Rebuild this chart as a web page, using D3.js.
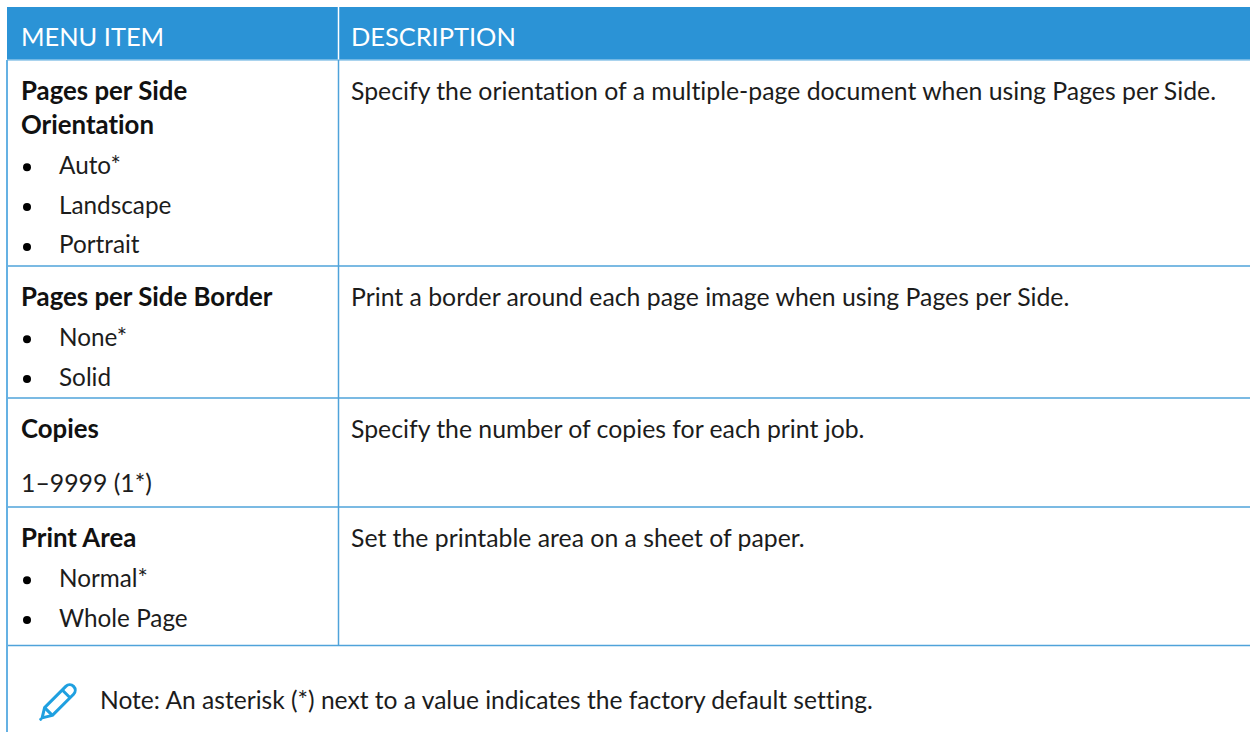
<!DOCTYPE html>
<html>
<head>
<meta charset="utf-8">
<script src="https://cdn.jsdelivr.net/npm/d3@7"></script>
<style>
  html, body { margin: 0; background: #fff; }
  svg { display: block; }
  text { font-family: Lato, sans-serif; font-size: 24.8px; fill: #1c1c1c; font-variant-ligatures: none; }
  .head { fill: #fff; font-size: 25.4px; }
  .title { font-weight: 700; fill: #111; font-size: 25.8px; }
  .option { font-size: 24.3px; }
  .note { font-size: 24.6px; }
</style>
</head>
<body>
<svg id="chart"></svg>
<script>
const headers = ['MENU ITEM', 'DESCRIPTION'];
const titles = [['Pages per Side', 'Orientation'], ['Pages per Side Border'], ['Copies'], ['Print Area']];
const options = [['Auto*', 'Landscape', 'Portrait'], ['None*', 'Solid'], [], ['Normal*', 'Whole Page']];
const plainValues = [null, null, '1–9999 (1*)', null];
const descriptions = [
  'Specify the orientation of a multiple-page document when using Pages per Side.',
  'Print a border around each page image when using Pages per Side.',
  'Specify the number of copies for each print job.',
  'Set the printable area on a sheet of paper.'
];
const note = 'Note: An asterisk (*) next to a value indicates the factory default setting.';

const width = 1250, height = 732;
const blue = '#2b93d6', lineBlue = '#4fa3da';
const tableLeft = 7, tableTop = 7, headBottom = 60, divider = 338.5;
const rowBottoms = [266, 398, 507, 645.5];
const rowTops = [headBottom].concat(rowBottoms.slice(0, -1));
const pad = 14;

const svg = d3.select('#chart').attr('width', width).attr('height', height);

// header band
svg.append('rect').attr('x', tableLeft).attr('y', tableTop)
  .attr('width', width - tableLeft).attr('height', headBottom - tableTop).attr('fill', blue);
svg.append('line').attr('x1', divider).attr('x2', divider).attr('y1', tableTop).attr('y2', headBottom)
  .attr('stroke', '#fff').attr('stroke-width', 1.5);
svg.selectAll('.head').data(headers).enter().append('text')
  .attr('class', 'head')
  .attr('x', (d, i) => (i ? divider : tableLeft) + pad - (i ? 1.5 : 0))
  .attr('y', 46)
  .text(d => d);

// grid lines
svg.append('line').attr('x1', tableLeft).attr('x2', width).attr('y1', headBottom).attr('y2', headBottom)
  .attr('stroke', '#8cc4e8').attr('stroke-width', 1.5);
svg.selectAll('.row-line').data(rowBottoms).enter().append('line')
  .attr('class', 'row-line')
  .attr('x1', tableLeft).attr('x2', width)
  .attr('y1', d => d).attr('y2', d => d)
  .attr('stroke', lineBlue).attr('stroke-width', 1.5);
svg.append('line').attr('x1', tableLeft).attr('x2', tableLeft).attr('y1', headBottom).attr('y2', height)
  .attr('stroke', '#65b1e3').attr('stroke-width', 2);
svg.append('line').attr('x1', divider).attr('x2', divider)
  .attr('y1', headBottom).attr('y2', rowBottoms[rowBottoms.length - 1])
  .attr('stroke', lineBlue).attr('stroke-width', 1.5);

// table rows
const rows = svg.selectAll('.row').data(titles).enter().append('g')
  .attr('class', 'row')
  .attr('transform', (d, i) => `translate(0,${rowTops[i]})`);

rows.each(function (rowTitles, i) {
  const g = d3.select(this);
  const titleBase = 40;
  rowTitles.forEach((t, k) => {
    g.append('text').attr('class', 'title').attr('x', 21).attr('y', titleBase + k * 34).text(t);
  });
  const lastTitle = titleBase + (rowTitles.length - 1) * 34;
  options[i].forEach((t, k) => {
    const y = lastTitle + 39.8 * (k + 1);
    g.append('circle').attr('cx', 27).attr('cy', y - 6.5).attr('r', 4).attr('fill', '#000');
    g.append('text').attr('class', 'option').attr('x', 59).attr('y', y).text(t);
  });
  if (plainValues[i]) {
    g.append('text').attr('x', 21).attr('y', lastTitle + 53.5).text(plainValues[i]);
  }
  g.append('text').attr('x', 351).attr('y', titleBase).text(descriptions[i]);
});

// note
const pencil = svg.append('g')
  .attr('transform', 'translate(40,720) rotate(-45)')
  .attr('fill', 'none').attr('stroke', '#1fa0e0').attr('stroke-width', 3)
  .attr('stroke-linejoin', 'round');
pencil.append('path').attr('d', 'M3 0 L12 -5.5 L42 -5.5 A5.5 5.5 0 0 1 42 5.5 L12 5.5 Z');
pencil.append('path').attr('d', 'M12 -5.5 L12 5.5 M37 -5.5 L37 5.5');
pencil.append('circle').attr('cx', 1).attr('cy', 0).attr('r', 1).attr('fill', '#1fa0e0').attr('stroke-width', 1);

svg.append('text').attr('class', 'note').attr('x', 100).attr('y', 708.5).text(note);
</script>
</body>
</html>
